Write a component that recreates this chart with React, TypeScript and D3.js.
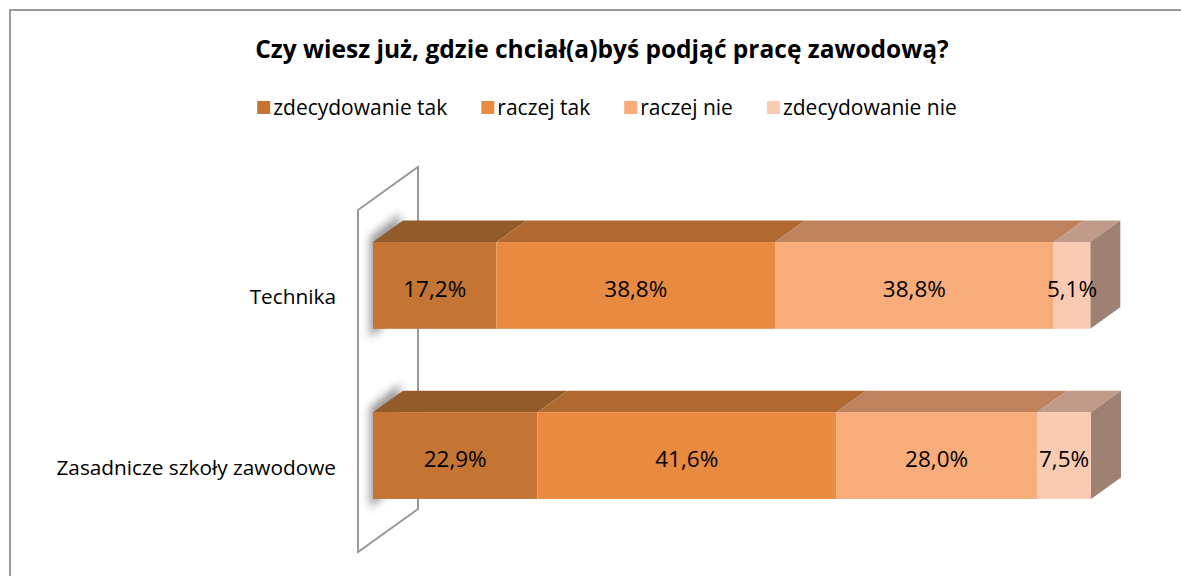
import { useEffect, useRef } from 'react';
import * as d3 from 'd3';

const categories = ['Technika', 'Zasadnicze szkoły zawodowe'];
const seriesNames = ['zdecydowanie tak', 'raczej tak', 'raczej nie', 'zdecydowanie nie'];
const zdecydowanieTak = [17.2, 22.9];
const raczejTak = [38.8, 41.6];
const raczejNie = [38.8, 28.0];
const zdecydowanieNie = [5.1, 7.5];

const frontColors = ['#C47534', '#E88B41', '#F8AC79', '#FBCAB3'];
const topColors = ['#935A2A', '#B06A31', '#BE835D', '#C09B89'];
const sideColor = '#9E8172';

const W = 1181;
const H = 576;
const FONT = '"Open Sans", sans-serif';

const App = () => {
  const svgRef = useRef<SVGSVGElement | null>(null);

  useEffect(() => {
    if (!svgRef.current) return;
    const svg = d3.select(svgRef.current);
    svg.selectAll('*').remove();

    const series = [zdecydowanieTak, raczejTak, raczejNie, zdecydowanieNie];
    const rows = categories.map((c, i) => {
      let acc = 0;
      return {
        cat: c,
        segs: series.map((s, k) => {
          const seg = { k, v: s[i], x0: acc, x1: acc + s[i] };
          acc += s[i];
          return seg;
        }),
      };
    });

    const x = d3.scaleLinear().domain([0, 100]).range([373, 1091]);
    const y = d3.scaleBand<string>()
      .domain(categories)
      .range([157, 584])
      .paddingInner(0.49)
      .paddingOuter(0.5);

    const dx = 30;
    const dy = -21.5;
    const fmt = (v: number) => d3.format('.1f')(v).replace('.', ',') + '%';

    const defs = svg.append('defs');
    defs.append('filter').attr('id', 'blur')
      .attr('x', '-50%').attr('y', '-50%').attr('width', '200%').attr('height', '200%')
      .append('feGaussianBlur').attr('stdDeviation', 4);

    // frame
    svg.append('rect')
      .attr('x', 10).attr('y', 10)
      .attr('width', W + 20).attr('height', H + 20)
      .attr('fill', '#fff')
      .attr('stroke', '#9a9a9a')
      .attr('stroke-width', 2);

    // title
    svg.append('text')
      .attr('x', 602).attr('y', 58)
      .attr('text-anchor', 'middle')
      .attr('font-family', FONT)
      .attr('font-weight', 'bold')
      .attr('font-size', 24.5)
      .attr('fill', '#000')
      .text('Czy wiesz już, gdzie chciał(a)byś podjąć pracę zawodową?');

    // legend
    const lg = svg.append('g');
    let lx = 0;
    seriesNames.forEach((name, k) => {
      const item = lg.append('g').attr('transform', `translate(${lx},0)`);
      item.append('rect')
        .attr('x', 0).attr('y', 101)
        .attr('width', 13).attr('height', 13)
        .attr('fill', frontColors[k]);
      const t = item.append('text')
        .attr('x', 16).attr('y', 115)
        .attr('font-family', FONT)
        .attr('font-size', 21)
        .attr('fill', '#000')
        .text(name);
      const tw = (t.node() as SVGTextElement).getComputedTextLength();
      lx += 16 + tw + 34;
    });
    const legendWidth = lx - 34;
    lg.attr('transform', `translate(${607 - legendWidth / 2},0)`);

    // back wall
    const wallX = x(0) - dx / 2;
    const wallTop = 210;
    const wallBottom = 552;
    svg.append('path')
      .attr('d', `M${wallX},${wallTop} L${wallX + 2 * dx},${wallTop + 2 * dy} L${wallX + 2 * dx},${wallBottom + 2 * dy} L${wallX},${wallBottom} Z`)
      .attr('fill', '#fff')
      .attr('stroke', '#999')
      .attr('stroke-width', 2);

    // category labels
    svg.selectAll('text.cat')
      .data(categories)
      .enter()
      .append('text')
      .attr('class', 'cat')
      .attr('x', 336)
      .attr('y', d => (y(d) as number) + y.bandwidth() / 2 + 11)
      .attr('text-anchor', 'end')
      .attr('dominant-baseline', 'central')
      .attr('font-family', FONT)
      .attr('font-size', 20.8)
      .attr('fill', '#000')
      .text(d => d);

    rows.forEach(row => {
      const y0 = y(row.cat) as number;
      const y1 = y0 + y.bandwidth();
      const g = svg.append('g');

      // shadow on the wall
      const sx = x(0) - 3;
      g.append('path')
        .attr('d', `M${sx},${y0 - 5} L${sx + dx},${y0 + dy - 7} L${sx + dx},${y1 + dy + 4} L${sx},${y1 + 9} Z`)
        .attr('fill', '#555')
        .attr('opacity', 0.6)
        .attr('filter', 'url(#blur)');

      // top faces
      g.selectAll('path.top')
        .data(row.segs)
        .enter()
        .append('path')
        .attr('class', 'top')
        .attr('d', s => `M${x(s.x0)},${y0} L${x(s.x1)},${y0} L${x(s.x1) + dx},${y0 + dy} L${x(s.x0) + dx},${y0 + dy} Z`)
        .attr('fill', s => topColors[s.k]);

      // right side face
      const last = row.segs[row.segs.length - 1];
      g.append('path')
        .attr('d', `M${x(last.x1)},${y0} L${x(last.x1) + dx},${y0 + dy} L${x(last.x1) + dx},${y1 + dy} L${x(last.x1)},${y1} Z`)
        .attr('fill', sideColor);

      // front faces
      g.selectAll('rect.front')
        .data(row.segs)
        .enter()
        .append('rect')
        .attr('class', 'front')
        .attr('x', s => x(s.x0))
        .attr('y', y0)
        .attr('width', s => x(s.x1) - x(s.x0))
        .attr('height', y.bandwidth())
        .attr('fill', s => frontColors[s.k]);

      // data labels
      g.selectAll('text.val')
        .data(row.segs)
        .enter()
        .append('text')
        .attr('class', 'val')
        .attr('x', s => (x(s.x0) + x(s.x1)) / 2)
        .attr('y', y0 + y.bandwidth() / 2 + 3)
        .attr('text-anchor', 'middle')
        .attr('dominant-baseline', 'central')
        .attr('font-family', FONT)
        .attr('font-size', 22.5)
        .attr('fill', '#000')
        .text(s => fmt(s.v));
    });
  }, []);

  return (
    <svg
      ref={svgRef}
      width={W}
      height={H}
      style={{ position: 'absolute', left: 0, top: 0, display: 'block' }}
    ></svg>
  );
};

export default App;
